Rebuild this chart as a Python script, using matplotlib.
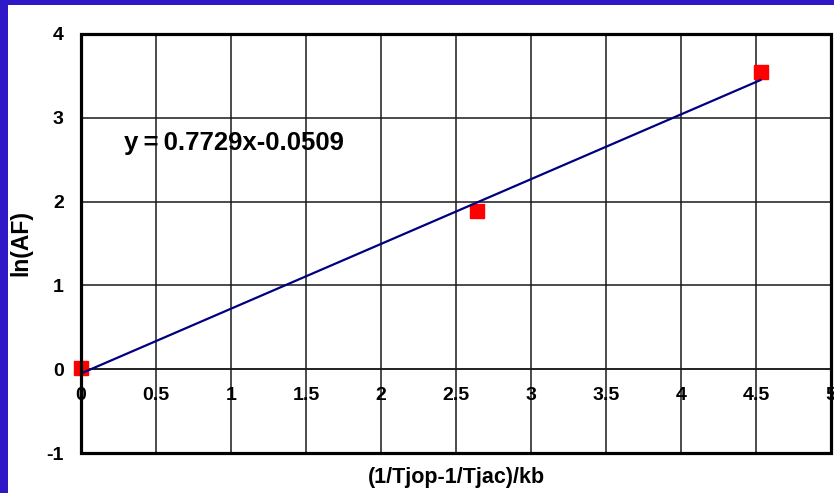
import numpy as np
import matplotlib
matplotlib.use('Agg')
import matplotlib.pyplot as plt
from matplotlib.patches import Rectangle

# measured points and the fitted trend line
x_vals = [0.0, 2.64, 4.53]
ln_af = [0.02, 1.89, 3.55]
slope = 0.7729
intercept = -0.0509

x_ticks = [0, 0.5, 1, 1.5, 2, 2.5, 3, 3.5, 4, 4.5, 5]
x_tick_labels = ['0', '0.5', '1', '1.5', '2', '2.5', '3', '3.5', '4', '4.5', '5']
y_ticks = [-1, 0, 1, 2, 3, 4]

plt.rcParams['font.family'] = ['Liberation Sans', 'DejaVu Sans']
plt.rcParams['axes.unicode_minus'] = False

fig = plt.figure(figsize=(8.34, 4.93), dpi=100)
fig.patch.set_facecolor('white')
# blue border along the left and top edges
border = '#2e18c8'
fig.patches.append(Rectangle((0, 0), 8 / 834, 1, transform=fig.transFigure,
                             facecolor=border, edgecolor='none'))
fig.patches.append(Rectangle((0, 1 - 5 / 493), 1, 5 / 493, transform=fig.transFigure,
                             facecolor=border, edgecolor='none'))

ax = fig.add_axes([81 / 834, 40 / 493, 750 / 834, 419 / 493])
ax.set_xlim(0, 5)
ax.set_ylim(-1, 4)

# grid
ax.set_xticks(x_ticks)
ax.set_xticklabels(x_tick_labels)
ax.set_yticks(y_ticks)
ax.grid(True, color='#1a1a1a', linewidth=1.1)
ax.set_axisbelow(True)

# x axis labels sit on the y=0 line
for side in ['top', 'right', 'left']:
    ax.spines[side].set_visible(False)
ax.spines['bottom'].set_position(('data', 0))
ax.spines['bottom'].set_linewidth(1.1)
ax.spines['bottom'].set_color('#1a1a1a')
ax.add_patch(Rectangle((0, 0), 1, 1, transform=ax.transAxes, fill=False,
                       edgecolor='black', linewidth=2.3, clip_on=False, zorder=5))

ax.tick_params(axis='both', length=0, labelsize=14)
ax.tick_params(axis='x', pad=13)
ax.tick_params(axis='y', pad=12.5)
for lbl in ax.get_xticklabels() + ax.get_yticklabels():
    lbl.set_fontweight('bold')

# data points
ax.plot(x_vals, ln_af, linestyle='none', marker='s', markersize=9.5,
        color='#ff0000', zorder=3, clip_on=False)

# trend line over the data range
xs = np.array([min(x_vals), max(x_vals)])
ax.plot(xs, slope * xs + intercept, color='#000080', linewidth=1.6, zorder=4)

ax.text(0.29, 2.70, f'y\u2009=\u2009{slope}x{intercept}', fontsize=18.5,
        fontweight='bold', va='center', ha='left')

ax.set_xlabel('(1/Tjop-1/Tjac)/kb', fontsize=15.5, fontweight='bold')
ax.xaxis.set_label_coords(0.5, -(478 - 453) / 419)
ax.xaxis.label.set_va('center')
ax.set_ylabel('ln(AF)', fontsize=16.5, fontweight='bold')
ax.yaxis.set_label_coords(-(81 - 21) / 750, 0.5)
ax.yaxis.label.set_va('center')

fig.savefig('out.png', dpi=100)
